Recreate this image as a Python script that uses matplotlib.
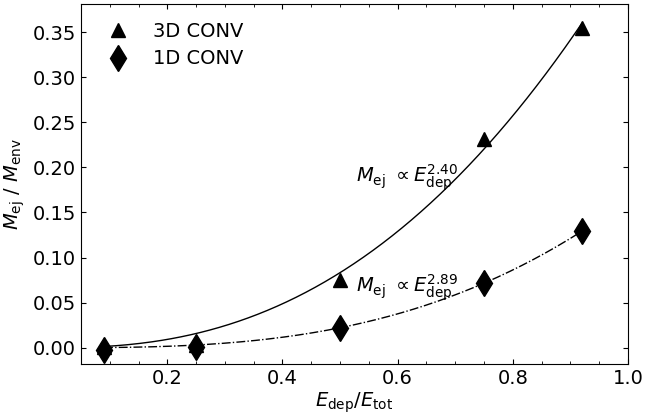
import numpy as np
import matplotlib
matplotlib.use('Agg')
from matplotlib import pyplot as plt
from matplotlib.ticker import MultipleLocator

# energy deposited fraction
e_frac = [0.09, 0.25, 0.50, 0.75, 0.92]
# ejected mass fraction
m_3d = [0.001, 0.003, 0.075, 0.232, 0.355]
m_1d = [-0.002, 0.001, 0.022, 0.072, 0.129]
# power-law exponents quoted in the labels
p_3d = 2.40
p_1d = 2.89

plt.rcParams['font.size'] = 14
plt.rcParams['mathtext.fontset'] = 'dejavusans'

def fit_amp(x, y, p):
    '''least squares amplitude for y = a*x^p'''
    x = np.asarray(x)
    y = np.asarray(y)
    return np.sum(y * x**p) / np.sum(x**(2 * p))

fig, ax = plt.subplots(figsize=(6.46, 4.15), dpi=100)

ax.plot(e_frac, m_3d, '^', color='k', ms=10, label='3D CONV')
ax.plot(e_frac, m_1d, 'd', color='k', ms=13, label='1D CONV')

xx = np.linspace(min(e_frac), max(e_frac), 200)
ax.plot(xx, fit_amp(e_frac, m_3d, p_3d) * xx**p_3d, 'k-', lw=1)
ax.plot(xx, fit_amp(e_frac, m_1d, p_1d) * xx**p_1d, 'k-.', lw=1)

ax.text(0.527, 0.183, r'$M_{\rm ej}$ $\propto E_{\rm dep}^{%.2f}$' % p_3d)
ax.text(0.527, 0.061, r'$M_{\rm ej}$ $\propto E_{\rm dep}^{%.2f}$' % p_1d)

ax.set_xlim(0.05, 1.0)
ax.set_ylim(-0.018, 0.381)
ax.set_xticks([0.2, 0.4, 0.6, 0.8, 1.0])
ax.xaxis.set_minor_locator(MultipleLocator(0.05))
ax.tick_params(which='both', direction='in', top=True, right=True)
ax.tick_params(which='major', length=3.5)
ax.tick_params(which='minor', length=2.5)

ax.set_xlabel(r'$E_{\rm dep}/E_{\rm tot}$', labelpad=2)
ax.set_ylabel(r'$M_{\rm ej}$ / $M_{\rm env}$', labelpad=4)
ax.legend(loc='upper left', frameon=False, handletextpad=0.8,
          borderaxespad=0.5, labelspacing=0.45)

plt.subplots_adjust(left=0.1254, right=0.972, top=0.990, bottom=0.123)
plt.savefig('out.png', dpi=100)
